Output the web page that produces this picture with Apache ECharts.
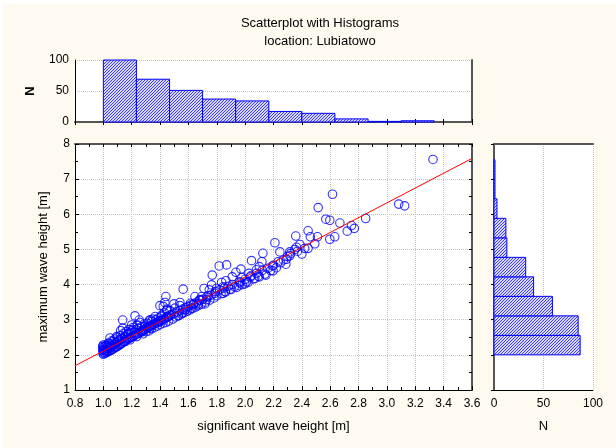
<!DOCTYPE html>
<html>
<head>
<meta charset="utf-8">
<script src="https://cdn.jsdelivr.net/npm/echarts@6/dist/echarts.min.js"></script>
<style>html,body{margin:0;padding:0;background:#fff}#c{width:616px;height:448px}</style>
</head>
<body>
<div id="c"></div>
<script>
// ---- data ----
const xTickLabels = ['0.8','1.0','1.2','1.4','1.6','1.8','2.0','2.2','2.4','2.6','2.8','3.0','3.2','3.4','3.6'];
const yTickLabels = ['1','2','3','4','5','6','7','8'];
const nTickLabels = ['0','50','100'];

// histogram of significant wave height (x): bin edges and counts
const xBinEdges = [1.0, 1.233, 1.467, 1.7, 1.933, 2.167, 2.4, 2.633, 2.867, 3.1, 3.333];
const xBinCounts = [100, 69, 51, 37, 34, 17, 14, 5, 1, 2];

// histogram of maximum wave height (y): bin edges and counts
const yBinEdges = [2.0, 2.555, 3.11, 3.665, 4.22, 4.775, 5.33, 5.885, 6.44, 6.995, 7.55];
const yBinCounts = [87, 85, 59, 40, 32, 13, 12, 3, 1, 1];

// regression line end points
const fitLine = [[0.8, 1.69], [3.6, 7.59]];

// scatter points [Hs, Hmax]
const points = [
[3.325,7.56],[3.083,6.29],[3.125,6.24],[2.85,5.88],[2.616,6.57],[2.515,6.19],[2.569,5.86],[2.597,5.83],
[2.668,5.75],[2.72,5.52],[2.75,5.68],[2.77,5.60],[2.597,5.29],[2.632,5.36],[2.51,5.36],[2.46,5.36],
[2.444,5.53],[2.491,5.16],[2.444,5.03],[2.40,4.87],[2.42,5.03],[2.386,5.14],[2.357,5.38],[2.362,5.06],
[2.315,4.93],[2.315,4.82],[2.29,4.72],[2.287,4.58],[2.245,4.93],[2.233,4.65],[2.21,5.19],[2.193,4.53],
[2.16,4.46],[2.197,4.39],[2.146,4.27],[2.125,4.89],[2.118,4.65],[2.10,4.51],[2.092,4.24],[2.08,4.42],
[2.068,4.18],[2.045,4.68],[2.038,4.22],[2.01,4.08],[2.026,4.32],[1.998,4.02],[1.975,4.20],[1.97,4.44],
[1.956,3.97],[1.963,4.05],[1.935,4.35],[1.923,3.94],[1.909,4.22],[1.892,3.87],[1.864,4.11],[1.869,4.56],
[1.862,3.79],[1.845,3.94],[1.834,4.06],[1.817,4.53],[1.845,3.75],[1.798,3.89],[1.787,3.75],[1.768,4.27],
[1.763,3.99],[1.747,3.85],[1.74,3.68],[1.71,3.89],[1.728,3.57],[1.716,3.45],[1.693,3.66],[1.68,3.57],
[1.669,3.45],[1.646,3.66],[1.634,3.43],[1.622,3.33],[1.615,3.47],[1.563,3.87],[1.582,3.29],[1.558,3.19],
[1.54,3.40],[1.54,3.49],[1.528,3.11],[1.505,3.33],[1.498,3.45],[1.47,3.26],[1.458,3.09],[1.441,3.66],
[1.434,3.49],[1.422,3.38],[1.446,3.26],[1.399,3.40],[1.41,3.09],[1.388,2.95],[1.365,3.09],[1.34,2.95],
[1.324,2.97],[1.329,2.76],[1.293,2.81],[1.277,2.66],[1.253,2.99],[1.239,2.85],[1.223,3.11],[1.235,2.52],
[1.207,2.71],[1.20,2.85],[1.176,2.62],[1.164,2.48],[1.136,2.99],[1.136,2.76],[1.122,2.69],[1.117,2.43],
[1.094,2.52],[1.07,2.38],[1.047,2.48],[1.035,2.33],[1.011,2.24],[0.995,2.13],[0.995,2.24],[1.0,2.03],
[1.023,2.10],[1.047,2.19],[1.082,2.24],[1.117,2.31],[1.152,2.38],[1.188,2.43],
[1.00,2.02],[1.00,2.08],[1.00,2.15],[1.00,2.22],[1.00,2.28],[1.01,2.05],[1.01,2.12],[1.01,2.19],
[1.02,2.06],[1.02,2.14],[1.02,2.27],[1.03,2.09],[1.03,2.18],[1.03,2.25],[1.04,2.11],[1.04,2.20],
[1.04,2.33],[1.05,2.12],[1.05,2.22],[1.05,2.30],[1.06,2.15],[1.06,2.25],[1.06,2.40],[1.07,2.17],
[1.07,2.28],[1.08,2.20],[1.08,2.31],[1.08,2.45],[1.09,2.22],[1.09,2.35],[1.10,2.24],[1.10,2.38],
[1.10,2.50],[1.11,2.27],[1.11,2.42],[1.12,2.30],[1.12,2.55],[1.13,2.33],[1.13,2.47],[1.14,2.36],
[1.14,2.60],[1.15,2.38],[1.15,2.52],[1.16,2.41],[1.16,2.66],[1.17,2.44],[1.17,2.58],[1.18,2.46],
[1.18,2.72],[1.19,2.49],[1.19,2.62],[1.20,2.50],[1.20,2.68],[1.21,2.53],[1.21,2.78],[1.22,2.55],
[1.22,2.64],[1.23,2.58],[1.23,2.72],
[1.24,2.60],[1.24,2.84],[1.25,2.62],[1.25,2.75],[1.26,2.65],[1.26,2.92],[1.27,2.67],[1.27,2.80],
[1.28,2.70],[1.28,2.60],[1.29,2.72],[1.29,2.88],[1.30,2.74],[1.30,2.66],[1.31,2.77],[1.31,2.90],
[1.32,2.79],[1.32,2.68],[1.33,2.82],[1.33,3.00],[1.34,2.84],[1.34,2.74],[1.35,2.86],[1.35,3.02],
[1.36,2.88],[1.36,2.78],[1.37,2.90],[1.37,3.00],[1.38,2.92],[1.38,2.82],[1.39,2.94],[1.39,3.05],
[1.40,2.96],[1.40,2.86],[1.41,2.98],[1.41,3.12],[1.42,3.00],[1.42,2.90],[1.43,3.02],[1.43,3.20],
[1.44,3.05],[1.44,2.92],[1.45,3.08],[1.45,3.30],[1.46,3.10],[1.46,2.96],[1.47,3.12],
[1.48,3.15],[1.49,3.02],[1.50,3.18],[1.51,3.08],[1.52,3.22],[1.53,3.12],[1.54,3.26],[1.55,3.16],
[1.56,3.30],[1.57,3.20],[1.58,3.34],[1.59,3.24],[1.60,3.38],[1.61,3.28],[1.62,3.42],[1.63,3.32],
[1.64,3.46],[1.65,3.36],[1.66,3.50],[1.67,3.40],[1.68,3.55],[1.69,3.44],[1.70,3.58],
[1.72,3.50],[1.73,3.65],[1.75,3.56],[1.76,3.70],[1.78,3.62],[1.79,3.80],[1.80,3.68],[1.82,3.85],
[1.83,3.74],[1.85,3.90],[1.86,3.80],[1.88,3.95],[1.90,3.86],[1.91,4.00],
[1.94,3.92],[1.96,4.08],[1.98,4.00],[2.00,4.15],[2.02,4.06],[2.04,4.25],[2.06,4.16],[2.08,4.32],
[2.10,4.22],[2.12,4.40],[2.14,4.30],
[2.18,4.40],[2.20,4.55],[2.22,4.48],[2.25,4.62],[2.27,4.70],[2.30,4.80],[2.32,4.88],[2.35,5.00],[2.37,4.95]
];

// ---- build ----
const xHistData = xBinCounts.map((c, i) => [xBinEdges[i], xBinEdges[i + 1], c]);
const yHistData = yBinCounts.map((c, i) => [yBinEdges[i], yBinEdges[i + 1], c]);

// hatch pattern tile (3x3 pixels, diagonal '/')
const pc = document.createElement('canvas');
pc.width = 3; pc.height = 3;
const g = pc.getContext('2d');
g.fillStyle = '#d8d8ff'; g.fillRect(0, 0, 3, 3);
g.fillStyle = '#3c3cff';
g.fillRect(2, 0, 1, 1); g.fillRect(1, 1, 1, 1); g.fillRect(0, 2, 1, 1);
const hatch = { image: pc, repeat: 'repeat' };

const FONT = 'Liberation Sans, Arial, sans-serif';
const gridLine = { show: true, lineStyle: { color: '#c4c4c4', type: 'dotted', width: 1 } };
const frameLine = { show: true, lineStyle: { color: '#555', width: 2 } };
const mainLine = { show: true, lineStyle: { color: '#000', width: 1 } };
const lbl = { color: '#000', fontSize: 12, fontFamily: FONT };

const xScale = { type: 'value', min: 0.8, max: 3.6, interval: 0.2 };
const yScale = { type: 'value', min: 1, max: 8, interval: 1 };
const nScale = { type: 'value', min: 0, max: 100, interval: 50 };

const chart = echarts.init(document.getElementById('c'), null, { renderer: 'canvas' });
chart.setOption({
  backgroundColor: '#fefaef',
  animation: false,
  textStyle: { fontFamily: FONT },
  title: {
    text: 'Scatterplot with Histograms\nlocation: Lubiatowo',
    left: 315, top: 9, textAlign: 'center',
    textStyle: { fontSize: 13, fontWeight: 'normal', color: '#000', lineHeight: 18, fontFamily: FONT }
  },
  graphic: [
    { type: 'rect', shape: { x: 0, y: 0, width: 616, height: 4 }, style: { fill: '#fff' }, silent: true },
    { type: 'rect', shape: { x: 0, y: 0, width: 3, height: 448 }, style: { fill: '#fff' }, silent: true }
  ],
  grid: [
    { left: 75, top: 144, width: 397, height: 246, show: true, backgroundColor: '#fff', borderWidth: 0 },
    { left: 75, top: 60, width: 397, height: 62, show: true, backgroundColor: '#fff', borderWidth: 0 },
    { left: 494, top: 144, width: 99, height: 246, show: true, backgroundColor: '#fff', borderWidth: 0 }
  ],
  xAxis: [
    Object.assign({}, xScale, { gridIndex: 0, position: 'bottom',
      name: 'significant wave height [m]', nameLocation: 'middle', nameGap: 30,
      nameTextStyle: { fontSize: 13, color: '#000', fontFamily: FONT },
      axisLine: mainLine, axisTick: { inside: true, length: 4, lineStyle: { color: '#000' } },
      minorTick: { show: true, splitNumber: 2, length: 3, lineStyle: { color: '#000' } },
      axisLabel: Object.assign({}, lbl, { margin: 8, formatter: (v) => xTickLabels[Math.round((v - 0.8) / 0.2)] }),
      splitLine: gridLine }),
    Object.assign({}, xScale, { gridIndex: 0, position: 'top',
      axisLine: frameLine, axisTick: { inside: true, length: 3, lineStyle: { color: '#000' } },
      minorTick: { show: true, splitNumber: 2, length: 3, lineStyle: { color: '#000' } },
      axisLabel: { show: false }, splitLine: { show: false } }),
    Object.assign({}, xScale, { gridIndex: 1, position: 'bottom',
      axisLine: mainLine, axisTick: { inside: true, length: 3, lineStyle: { color: '#000' } },
      axisLabel: { show: false }, splitLine: { show: false } }),
    Object.assign({}, xScale, { gridIndex: 1, position: 'top',
      axisLine: frameLine, axisTick: { inside: true, length: 3, lineStyle: { color: '#000' } },
      axisLabel: { show: false }, splitLine: { show: false } }),
    Object.assign({}, nScale, { gridIndex: 2, position: 'bottom',
      name: 'N', nameLocation: 'middle', nameGap: 30,
      nameTextStyle: { fontSize: 13, color: '#000', fontFamily: FONT },
      axisLine: mainLine, axisTick: { show: false },
      axisLabel: Object.assign({}, lbl, { margin: 8, formatter: (v) => nTickLabels[Math.round(v / 50)] }),
      splitLine: gridLine }),
    Object.assign({}, nScale, { gridIndex: 2, position: 'top',
      axisLine: frameLine, axisTick: { show: false },
      axisLabel: { show: false }, splitLine: { show: false } })
  ],
  yAxis: [
    Object.assign({}, yScale, { gridIndex: 0, position: 'left',
      name: 'maximum wave height [m]', nameLocation: 'middle', nameGap: 25,
      nameTextStyle: { fontSize: 13, color: '#000', fontFamily: FONT },
      axisLine: mainLine, axisTick: { inside: true, length: 4, lineStyle: { color: '#000' } },
      minorTick: { show: true, splitNumber: 2, length: 3, lineStyle: { color: '#000' } },
      axisLabel: Object.assign({}, lbl, { margin: 5, formatter: (v) => yTickLabels[Math.round(v - 1)] }),
      splitLine: gridLine }),
    Object.assign({}, yScale, { gridIndex: 0, position: 'right',
      axisLine: frameLine, axisTick: { inside: true, length: 3, lineStyle: { color: '#000' } },
      minorTick: { show: true, splitNumber: 2, length: 3, lineStyle: { color: '#000' } },
      axisLabel: { show: false }, splitLine: { show: false } }),
    Object.assign({}, nScale, { gridIndex: 1, position: 'left',
      name: 'N', nameLocation: 'middle', nameGap: 38, nameRotate: 90,
      nameTextStyle: { fontSize: 13, color: '#000', fontFamily: FONT, fontWeight: 'bold' },
      axisLine: mainLine, axisTick: { show: false },
      axisLabel: Object.assign({}, lbl, { margin: 6, formatter: (v) => nTickLabels[Math.round(v / 50)] }),
      splitLine: gridLine }),
    Object.assign({}, nScale, { gridIndex: 1, position: 'right',
      axisLine: frameLine, axisTick: { show: false },
      axisLabel: { show: false }, splitLine: { show: false } }),
    Object.assign({}, yScale, { gridIndex: 2, position: 'left',
      axisLine: mainLine, axisTick: { show: false },
      axisLabel: { show: false }, splitLine: { show: false } }),
    Object.assign({}, yScale, { gridIndex: 2, position: 'right',
      axisLine: frameLine, axisTick: { inside: true, length: 3, lineStyle: { color: '#000' } },
      axisLabel: { show: false }, splitLine: { show: false } })
  ],
  series: [
    {
      type: 'scatter', xAxisIndex: 0, yAxisIndex: 0, data: points,
      symbol: 'circle', symbolSize: 8.5,
      itemStyle: { color: 'rgba(255,255,255,0)', borderColor: '#0000ff', borderWidth: 1.1 },
      silent: true, z: 3
    },
    {
      type: 'line', xAxisIndex: 0, yAxisIndex: 0, data: fitLine,
      symbol: 'none', lineStyle: { color: '#ff0000', width: 1 }, silent: true, z: 4
    },
    {
      type: 'custom', xAxisIndex: 2, yAxisIndex: 2, data: xHistData,
      encode: { x: [0, 1], y: 2 }, silent: true,
      renderItem: function (params, api) {
        const p0 = api.coord([api.value(0), api.value(2)]);
        const p1 = api.coord([api.value(1), 0]);
        return { type: 'rect', shape: { x: p0[0], y: p0[1], width: p1[0] - p0[0], height: p1[1] - p0[1] },
          style: { fill: hatch, stroke: '#0000ff', lineWidth: 1 } };
      }
    },
    {
      type: 'custom', xAxisIndex: 4, yAxisIndex: 4, data: yHistData,
      encode: { x: 2, y: [0, 1] }, silent: true,
      renderItem: function (params, api) {
        const p0 = api.coord([0, api.value(1)]);
        const p1 = api.coord([api.value(2), api.value(0)]);
        return { type: 'rect', shape: { x: p0[0], y: p0[1], width: p1[0] - p0[0], height: p1[1] - p0[1] },
          style: { fill: hatch, stroke: '#0000ff', lineWidth: 1 } };
      }
    }
  ]
});
</script>
</body>
</html>
